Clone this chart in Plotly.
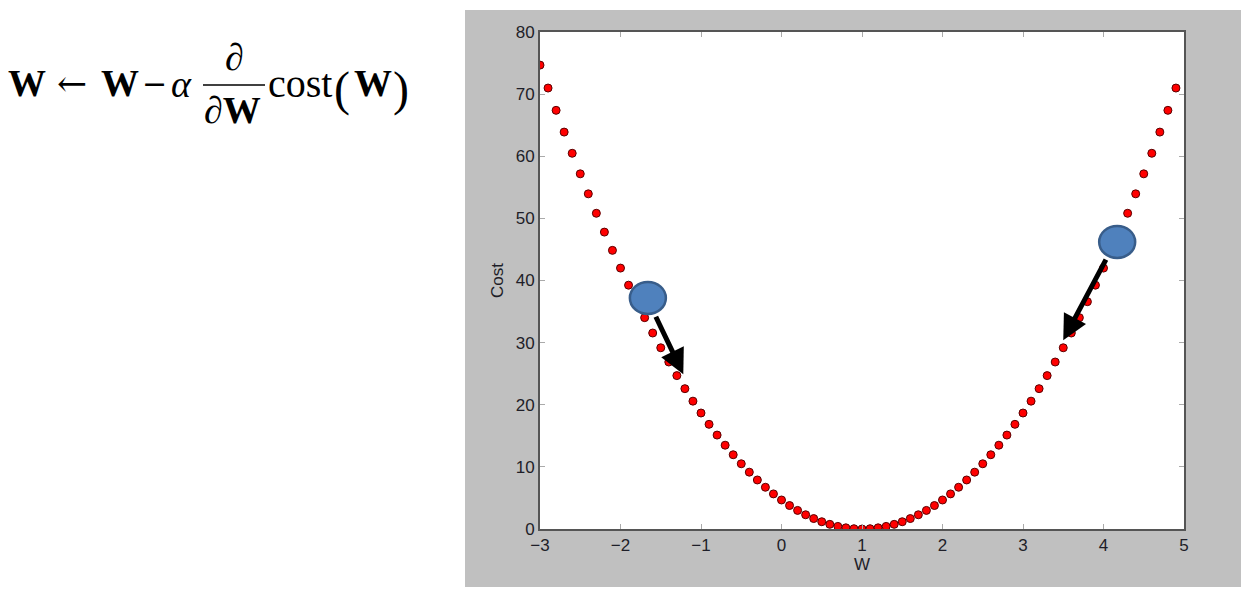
import plotly.graph_objects as go

# ---- data ----
w_values = [-3.0, -2.9, -2.8, -2.7, -2.6, -2.5, -2.4, -2.3, -2.2, -2.1,
            -2.0, -1.9, -1.8, -1.7, -1.6, -1.5, -1.4, -1.3, -1.2, -1.1,
            -1.0, -0.9, -0.8, -0.7, -0.6, -0.5, -0.4, -0.3, -0.2, -0.1,
            0.0, 0.1, 0.2, 0.3, 0.4, 0.5, 0.6, 0.7, 0.8, 0.9,
            1.0, 1.1, 1.2, 1.3, 1.4, 1.5, 1.6, 1.7, 1.8, 1.9,
            2.0, 2.1, 2.2, 2.3, 2.4, 2.5, 2.6, 2.7, 2.8, 2.9,
            3.0, 3.1, 3.2, 3.3, 3.4, 3.5, 3.6, 3.7, 3.8, 3.9,
            4.0, 4.1, 4.2, 4.3, 4.4, 4.5, 4.6, 4.7, 4.8, 4.9]
cost_values = [74.67, 70.98, 67.39, 63.89, 60.48, 57.17, 53.95, 50.82, 47.79, 44.85,
               42.00, 39.25, 36.59, 34.02, 31.55, 29.17, 26.88, 24.69, 22.59, 20.58,
               18.67, 16.85, 15.12, 13.49, 11.95, 10.50, 9.15, 7.89, 6.72, 5.65,
               4.67, 3.78, 2.99, 2.29, 1.68, 1.17, 0.75, 0.42, 0.19, 0.05,
               0.00, 0.05, 0.19, 0.42, 0.75, 1.17, 1.68, 2.29, 2.99, 3.78,
               4.67, 5.65, 6.72, 7.89, 9.15, 10.50, 11.95, 13.49, 15.12, 16.85,
               18.67, 20.58, 22.59, 24.69, 26.88, 29.17, 31.55, 34.02, 36.59, 39.25,
               42.00, 44.85, 47.79, 50.82, 53.95, 57.17, 60.48, 63.89, 67.39, 70.98]
x_ticks = [-3, -2, -1, 0, 1, 2, 3, 4, 5]
x_tick_labels = ["\u22123", "\u22122", "\u22121", "0", "1", "2", "3", "4", "5"]
y_ticks = [0, 10, 20, 30, 40, 50, 60, 70, 80]
ball_w = [-1.66, 4.17]
ball_cost = [37.2, 46.2]
arrow_tail_w = [-1.57, 4.04]
arrow_tail_cost = [34.4, 43.6]
arrow_tip_w = [-1.22, 3.50]
arrow_tip_cost = [24.9, 30.4]

# ---- layout geometry (page pixels; the page body has an 8px margin) ----
OFF = 8
W, H = 1260 - OFF, 599 - OFF
L, R, T, B = 540, 1184, 32, 529


def px(x):
    return (x - L) / (R - L)


def py(y):
    return (B - y) / (B - T)


fig = go.Figure()
fig.add_trace(go.Scatter(
    x=w_values, y=cost_values, mode="markers",
    marker=dict(size=8, color="#ff0000", line=dict(color="#5a0000", width=1)),
    showlegend=False, hoverinfo="skip"))

shapes = [
    dict(type="rect", xref="paper", yref="paper", x0=px(465), x1=px(1241),
         y0=py(587), y1=py(10), fillcolor="#c0c0c0", line=dict(width=0), layer="below"),
    dict(type="rect", xref="paper", yref="paper", x0=0, x1=1, y0=0, y1=1,
         fillcolor="white", line=dict(width=0), layer="below"),
    # fraction bar of the formula
    dict(type="line", xref="paper", yref="paper", x0=px(203), x1=px(265),
         y0=py(85), y1=py(85), line=dict(color="black", width=1.5)),
]
for bw, bc in zip(ball_w, ball_cost):
    shapes.append(dict(type="circle", xref="x", yref="y", xsizemode="pixel",
                       ysizemode="pixel", xanchor=bw, yanchor=bc,
                       x0=-18, x1=18, y0=-16, y1=16,
                       fillcolor="#4f81bd", line=dict(color="#385d8a", width=2.5),
                       layer="above"))

annotations = []
for tw, tc, hw, hc in zip(arrow_tail_w, arrow_tail_cost, arrow_tip_w, arrow_tip_cost):
    annotations.append(dict(x=hw, y=hc, ax=tw, ay=tc, xref="x", yref="y",
                            axref="x", ayref="y", text="", showarrow=True,
                            arrowhead=2, arrowsize=1.0, arrowwidth=5,
                            arrowcolor="black"))

serif = "Liberation Serif"
fs = 38


def txt(text, x, y, size=fs, xanchor="center", family=serif):
    annotations.append(dict(text=text, x=px(x), y=py(y), xref="paper", yref="paper",
                            xanchor=xanchor, yanchor="middle", showarrow=False,
                            font=dict(family=family, size=size, color="black")))


txt("<b>W</b>", 6, 83, xanchor="left")
txt("\u2190", 72, 83, size=36, family="DejaVu Serif")
txt("<b>W</b>", 99, 83, xanchor="left")
txt("\u2212", 154, 83, size=30, family="DejaVu Serif")
txt("<i>\u03b1</i>", 181, 84)
txt("\u2202", 234, 57)
txt("\u2202<b>W</b>", 232, 110)
txt("cost", 266, 83, xanchor="left", size=40)
txt("(", 342, 89, size=48)
txt("<b>W</b>", 352, 83, xanchor="left")
txt(")", 401, 89, size=48)

fig.update_layout(
    width=W, height=H,
    margin=dict(l=L - OFF, r=W - (R - OFF), t=T - OFF, b=H - (B - OFF), pad=0),
    paper_bgcolor="white", plot_bgcolor="white",
    shapes=shapes, annotations=annotations,
    font=dict(family="Liberation Sans", size=17, color="#1e1e28"),
    xaxis=dict(range=[-3, 5], tickvals=x_ticks, ticktext=x_tick_labels,
               showgrid=False, zeroline=False, showline=True, mirror="ticks",
               linecolor="#555555", linewidth=2, ticks="inside", ticklen=5,
               tickcolor="#aaaaaa", tickwidth=1,
               title=dict(text="W", font=dict(size=17), standoff=4)),
    yaxis=dict(range=[0, 80], tickvals=y_ticks,
               showgrid=False, zeroline=False, showline=True, mirror="ticks",
               linecolor="#555555", linewidth=2, ticks="inside", ticklen=5,
               tickcolor="#aaaaaa", tickwidth=1,
               title=dict(text="Cost", font=dict(size=17), standoff=8)),
)

fig.write_html("out.html")
